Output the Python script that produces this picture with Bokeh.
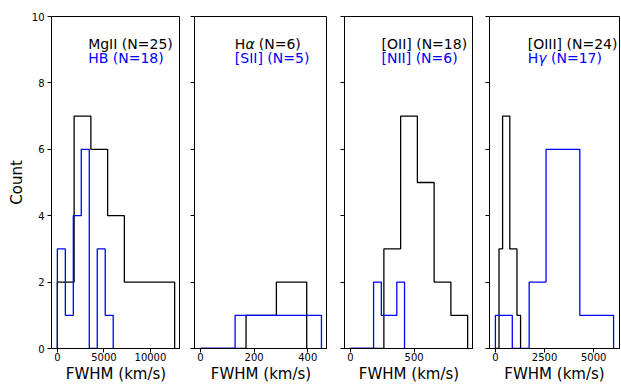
from bokeh.plotting import figure
from bokeh.layouts import row
from bokeh.models import Range1d, FixedTicker, Label
from bokeh.embed import file_html
from bokeh.resources import INLINE

# ---- data (bin edges in km/s, counts per bin) ----
# Panel 1
mgii_edges = [0, 1800, 3600, 5400, 7200, 9000, 10800, 12600]
mgii_counts = [2, 7, 6, 4, 2, 2, 2]
hb_edges = [0, 857, 1714, 2571, 3429, 4286, 5143, 6000]
hb_counts = [3, 1, 4, 6, 0, 3, 1]
# Panel 2
ha_edges = [0, 56.6, 113.1, 169.7, 226.3, 282.9, 339.4, 396]
ha_counts = [0, 0, 0, 1, 1, 2, 2]
sii_edges = [0, 64.4, 128.9, 193.3, 257.7, 322.1, 386.6, 451]
sii_counts = [0, 0, 1, 1, 1, 1, 1]
# Panel 3
oii_edges = [0, 131.4, 262.9, 394.3, 525.7, 657.1, 788.6, 920]
oii_counts = [0, 0, 3, 7, 5, 2, 1]
nii_edges = [0, 60.7, 121.4, 182.1, 242.9, 303.6, 364.3, 425]
nii_counts = [0, 0, 0, 2, 1, 1, 2]
# Panel 4
oiii_edges = [0, 183, 366, 549, 731, 914, 1097, 1280]
oiii_counts = [0, 3, 7, 7, 3, 3, 1]
hg_edges = [0, 859, 1718, 2577, 3437, 4296, 5155, 6014]
hg_counts = [1, 0, 2, 6, 6, 1, 1]

labels_black = ["MgII (N=25)", "H\u03b1 (N=6)", "[OII] (N=18)", "[OIII] (N=24)"]
labels_blue = ["HB (N=18)", "[SII] (N=5)", "[NII] (N=6)", "H\u03b3 (N=17)"]
x_ticks = [[0, 5000, 10000], [0, 200, 400], [0, 500], [0, 2500, 5000]]
y_ticks = [0, 2, 4, 6, 8, 10]
x_label = "FWHM (km/s)"
y_label = "Count"

panels = [
    (mgii_edges, mgii_counts, hb_edges, hb_counts),
    (ha_edges, ha_counts, sii_edges, sii_counts),
    (oii_edges, oii_counts, nii_edges, nii_counts),
    (oiii_edges, oiii_counts, hg_edges, hg_counts),
]
text_frac = [0.284, 0.303, 0.287, 0.294]

FONT = "DejaVu Sans"
FS = 14
# approximate advance widths (em) used to place italic Greek letters
EM_H = 0.756
EM_SPACE = 0.318
EM_GREEK = {"\u03b1": 0.64, "\u03b3": 0.59}
# (left border, frame width, right border) per panel, in pixels
geom = [(51, 129, 0), (14, 133, 0), (17, 129, 0), (16, 130, 2)]
TOP = 16
HEIGHT = 385
BOTTOM = HEIGHT - 348


def step_xy(edges, counts):
    xs = [edges[0]]
    ys = [0]
    for i, c in enumerate(counts):
        xs += [edges[i], edges[i + 1]]
        ys += [c, c]
    xs.append(edges[-1])
    ys.append(0)
    return xs, ys


def add_text(p, x, y, text, color):
    common = dict(y=y, text_font=FONT, text_font_size=f"{FS}px",
                  text_color=color, text_baseline="alphabetic")
    if len(text) > 1 and text[1] in EM_GREEK:
        g = text[1]
        off1 = EM_H * FS
        off2 = off1 + (EM_GREEK[g] + EM_SPACE) * FS
        p.add_layout(Label(x=x, text=text[0], **common))
        p.add_layout(Label(x=x, x_offset=off1, text=g, text_font_style="italic", **common))
        p.add_layout(Label(x=x, x_offset=off2, text=text[2:].lstrip(), **common))
    else:
        p.add_layout(Label(x=x, text=text, **common))


figs = []
for k, (be, bc, ue, uc) in enumerate(panels):
    lo = min(be[0], ue[0])
    hi = max(be[-1], ue[-1])
    pad = 0.05 * (hi - lo)
    first = k == 0
    left, fw, right = geom[k]
    p = figure(
        width=left + fw + right, height=HEIGHT,
        x_range=Range1d(lo - pad, hi + pad), y_range=Range1d(0, 10),
        output_backend="svg", toolbar_location=None,
        min_border_left=left, min_border_right=right,
        min_border_top=TOP, min_border_bottom=BOTTOM,
        background_fill_color="white", border_fill_color="white",
    )
    p.grid.visible = False
    p.outline_line_color = "black"
    p.outline_line_width = 1
    for ax in (p.xaxis[0], p.yaxis[0]):
        ax.axis_line_color = "black"
        ax.major_tick_line_color = "black"
        ax.major_tick_out = 4
        ax.major_tick_in = 0
        ax.minor_tick_line_color = None
        ax.major_label_text_font = FONT
        ax.major_label_text_font_size = "10px"
        ax.major_label_text_color = "black"
        ax.axis_label_text_font = FONT
        ax.axis_label_text_font_size = "15px"
        ax.axis_label_text_font_style = "normal"
        ax.axis_label_text_color = "black"
    p.xaxis.ticker = FixedTicker(ticks=x_ticks[k])
    p.yaxis.ticker = FixedTicker(ticks=y_ticks)
    p.xaxis.major_label_standoff = 0
    p.xaxis.axis_label = x_label
    p.xaxis.axis_label_standoff = 1
    if first:
        p.yaxis.axis_label = y_label
        p.yaxis.major_label_standoff = 3
        p.yaxis.axis_label_standoff = 3
    else:
        p.yaxis.major_label_overrides = {t: "" for t in y_ticks}
        p.yaxis.major_label_standoff = 0

    bx, by = step_xy(be, bc)
    ux, uy = step_xy(ue, uc)
    p.line(bx, by, line_color="black", line_width=1.3)
    p.line(ux, uy, line_color="#0000ff", line_width=1.3)

    tx = (lo - pad) + text_frac[k] * (hi - lo + 2 * pad)
    add_text(p, tx, 9.16, labels_black[k], "black")
    add_text(p, tx, 8.76, labels_blue[k], "#0000ff")
    figs.append(p)

layout = row(*figs, spacing=0)
open("out.html", "w").write(file_html(layout, INLINE))
